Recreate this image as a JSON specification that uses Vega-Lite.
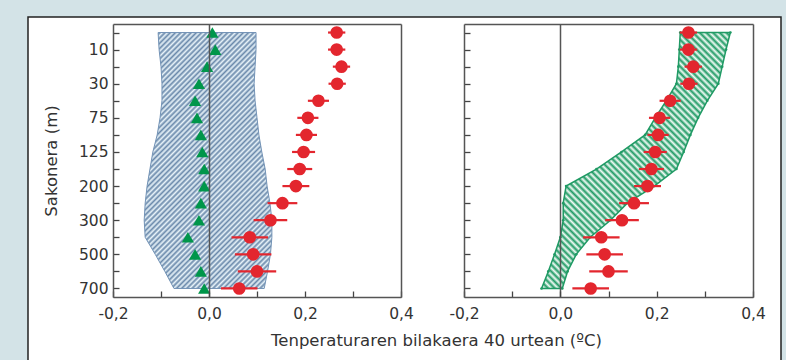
{
"$schema":"https://vega.github.io/schema/vega-lite/v6.json",
"width":753,"height":346,
"autosize":{"type":"none"},
"padding":{"left":28,"top":17,"right":5,"bottom":-3},
"background":"#d3e3e7",
"config":{"view":{"fill":"white","stroke":"#222","strokeWidth":1.5},"font":"DejaVu Sans","axis":{"labelFont":"DejaVu Sans","labelFontSize":15.5,"labelColor":"#333","titleFont":"DejaVu Sans","titleFontSize":16.5,"titleFontWeight":"normal","titleColor":"#333","domainColor":"#555","domainWidth":1.5,"tickColor":"#444","tickWidth":1.3,"grid":false}},
"data":{"values":[
{"depth":0,"dT":0.266,"lo":0.248,"hi":0.284,"tri":0.007,"bL":-0.106,"bR":0.098,"gL":0.249,"gR":0.353},
{"depth":10,"dT":0.266,"lo":0.248,"hi":0.284,"tri":0.013,"bL":-0.104,"bR":0.098,"gL":0.247,"gR":0.344},
{"depth":20,"dT":0.276,"lo":0.258,"hi":0.294,"tri":-0.004,"bL":-0.1,"bR":0.096,"gL":0.245,"gR":0.336},
{"depth":30,"dT":0.267,"lo":0.249,"hi":0.285,"tri":-0.021,"bL":-0.098,"bR":0.094,"gL":0.241,"gR":0.328},
{"depth":50,"dT":0.228,"lo":0.206,"hi":0.25,"tri":-0.029,"bL":-0.098,"bR":0.096,"gL":0.22,"gR":0.305},
{"depth":75,"dT":0.206,"lo":0.184,"hi":0.228,"tri":-0.025,"bL":-0.102,"bR":0.1,"gL":0.197,"gR":0.286},
{"depth":100,"dT":0.203,"lo":0.181,"hi":0.225,"tri":-0.017,"bL":-0.108,"bR":0.104,"gL":0.176,"gR":0.27},
{"depth":125,"dT":0.197,"lo":0.173,"hi":0.221,"tri":-0.014,"bL":-0.117,"bR":0.11,"gL":0.127,"gR":0.256},
{"depth":150,"dT":0.189,"lo":0.163,"hi":0.215,"tri":-0.01,"bL":-0.123,"bR":0.117,"gL":0.075,"gR":0.241},
{"depth":200,"dT":0.181,"lo":0.153,"hi":0.209,"tri":-0.01,"bL":-0.129,"bR":0.121,"gL":0.012,"gR":0.195},
{"depth":250,"dT":0.153,"lo":0.122,"hi":0.184,"tri":-0.017,"bL":-0.133,"bR":0.127,"gL":0.006,"gR":0.139},
{"depth":300,"dT":0.128,"lo":0.093,"hi":0.163,"tri":-0.021,"bL":-0.135,"bR":0.131,"gL":0.006,"gR":0.104},
{"depth":400,"dT":0.085,"lo":0.047,"hi":0.123,"tri":-0.044,"bL":-0.133,"bR":0.131,"gL":0.0,"gR":0.062},
{"depth":500,"dT":0.092,"lo":0.054,"hi":0.13,"tri":-0.029,"bL":-0.112,"bR":0.128,"gL":-0.012,"gR":0.033},
{"depth":600,"dT":0.1,"lo":0.06,"hi":0.14,"tri":-0.017,"bL":-0.092,"bR":0.122,"gL":-0.025,"gR":0.015},
{"depth":700,"dT":0.063,"lo":0.025,"hi":0.101,"tri":-0.01,"bL":-0.073,"bR":0.115,"gL":-0.039,"gR":0.004}
]},
"layer":[
{"layer":[
  {"mark":{"type":"area","stroke":"#7393b6","strokeWidth":1,"fill":{"gradient":"linear","x1":0,"y1":0,"x2":0.656,"y2":1.31,"stops":[
{"offset":0,"color":"#6a89ab"},{"offset":0.00625,"color":"#e8f3f9"},{"offset":0.0125,"color":"#6a89ab"},{"offset":0.01875,"color":"#e8f3f9"},{"offset":0.025,"color":"#6a89ab"},{"offset":0.03125,"color":"#e8f3f9"},{"offset":0.0375,"color":"#6a89ab"},{"offset":0.04375,"color":"#e8f3f9"},{"offset":0.05,"color":"#6a89ab"},{"offset":0.05625,"color":"#e8f3f9"},{"offset":0.0625,"color":"#6a89ab"},{"offset":0.06875,"color":"#e8f3f9"},{"offset":0.075,"color":"#6a89ab"},{"offset":0.08125,"color":"#e8f3f9"},{"offset":0.0875,"color":"#6a89ab"},{"offset":0.09375,"color":"#e8f3f9"},
{"offset":0.1,"color":"#6a89ab"},{"offset":0.10625,"color":"#e8f3f9"},{"offset":0.1125,"color":"#6a89ab"},{"offset":0.11875,"color":"#e8f3f9"},{"offset":0.125,"color":"#6a89ab"},{"offset":0.13125,"color":"#e8f3f9"},{"offset":0.1375,"color":"#6a89ab"},{"offset":0.14375,"color":"#e8f3f9"},{"offset":0.15,"color":"#6a89ab"},{"offset":0.15625,"color":"#e8f3f9"},{"offset":0.1625,"color":"#6a89ab"},{"offset":0.16875,"color":"#e8f3f9"},{"offset":0.175,"color":"#6a89ab"},{"offset":0.18125,"color":"#e8f3f9"},{"offset":0.1875,"color":"#6a89ab"},{"offset":0.19375,"color":"#e8f3f9"},
{"offset":0.2,"color":"#6a89ab"},{"offset":0.20625,"color":"#e8f3f9"},{"offset":0.2125,"color":"#6a89ab"},{"offset":0.21875,"color":"#e8f3f9"},{"offset":0.225,"color":"#6a89ab"},{"offset":0.23125,"color":"#e8f3f9"},{"offset":0.2375,"color":"#6a89ab"},{"offset":0.24375,"color":"#e8f3f9"},{"offset":0.25,"color":"#6a89ab"},{"offset":0.25625,"color":"#e8f3f9"},{"offset":0.2625,"color":"#6a89ab"},{"offset":0.26875,"color":"#e8f3f9"},{"offset":0.275,"color":"#6a89ab"},{"offset":0.28125,"color":"#e8f3f9"},{"offset":0.2875,"color":"#6a89ab"},{"offset":0.29375,"color":"#e8f3f9"},
{"offset":0.3,"color":"#6a89ab"},{"offset":0.30625,"color":"#e8f3f9"},{"offset":0.3125,"color":"#6a89ab"},{"offset":0.31875,"color":"#e8f3f9"},{"offset":0.325,"color":"#6a89ab"},{"offset":0.33125,"color":"#e8f3f9"},{"offset":0.3375,"color":"#6a89ab"},{"offset":0.34375,"color":"#e8f3f9"},{"offset":0.35,"color":"#6a89ab"},{"offset":0.35625,"color":"#e8f3f9"},{"offset":0.3625,"color":"#6a89ab"},{"offset":0.36875,"color":"#e8f3f9"},{"offset":0.375,"color":"#6a89ab"},{"offset":0.38125,"color":"#e8f3f9"},{"offset":0.3875,"color":"#6a89ab"},{"offset":0.39375,"color":"#e8f3f9"},
{"offset":0.4,"color":"#6a89ab"},{"offset":0.40625,"color":"#e8f3f9"},{"offset":0.4125,"color":"#6a89ab"},{"offset":0.41875,"color":"#e8f3f9"},{"offset":0.425,"color":"#6a89ab"},{"offset":0.43125,"color":"#e8f3f9"},{"offset":0.4375,"color":"#6a89ab"},{"offset":0.44375,"color":"#e8f3f9"},{"offset":0.45,"color":"#6a89ab"},{"offset":0.45625,"color":"#e8f3f9"},{"offset":0.4625,"color":"#6a89ab"},{"offset":0.46875,"color":"#e8f3f9"},{"offset":0.475,"color":"#6a89ab"},{"offset":0.48125,"color":"#e8f3f9"},{"offset":0.4875,"color":"#6a89ab"},{"offset":0.49375,"color":"#e8f3f9"},
{"offset":0.5,"color":"#6a89ab"},{"offset":0.50625,"color":"#e8f3f9"},{"offset":0.5125,"color":"#6a89ab"},{"offset":0.51875,"color":"#e8f3f9"},{"offset":0.525,"color":"#6a89ab"},{"offset":0.53125,"color":"#e8f3f9"},{"offset":0.5375,"color":"#6a89ab"},{"offset":0.54375,"color":"#e8f3f9"},{"offset":0.55,"color":"#6a89ab"},{"offset":0.55625,"color":"#e8f3f9"},{"offset":0.5625,"color":"#6a89ab"},{"offset":0.56875,"color":"#e8f3f9"},{"offset":0.575,"color":"#6a89ab"},{"offset":0.58125,"color":"#e8f3f9"},{"offset":0.5875,"color":"#6a89ab"},{"offset":0.59375,"color":"#e8f3f9"},
{"offset":0.6,"color":"#6a89ab"},{"offset":0.60625,"color":"#e8f3f9"},{"offset":0.6125,"color":"#6a89ab"},{"offset":0.61875,"color":"#e8f3f9"},{"offset":0.625,"color":"#6a89ab"},{"offset":0.63125,"color":"#e8f3f9"},{"offset":0.6375,"color":"#6a89ab"},{"offset":0.64375,"color":"#e8f3f9"},{"offset":0.65,"color":"#6a89ab"},{"offset":0.65625,"color":"#e8f3f9"},{"offset":0.6625,"color":"#6a89ab"},{"offset":0.66875,"color":"#e8f3f9"},{"offset":0.675,"color":"#6a89ab"},{"offset":0.68125,"color":"#e8f3f9"},{"offset":0.6875,"color":"#6a89ab"},{"offset":0.69375,"color":"#e8f3f9"},
{"offset":0.7,"color":"#6a89ab"},{"offset":0.70625,"color":"#e8f3f9"},{"offset":0.7125,"color":"#6a89ab"},{"offset":0.71875,"color":"#e8f3f9"},{"offset":0.725,"color":"#6a89ab"},{"offset":0.73125,"color":"#e8f3f9"},{"offset":0.7375,"color":"#6a89ab"},{"offset":0.74375,"color":"#e8f3f9"},{"offset":0.75,"color":"#6a89ab"},{"offset":0.75625,"color":"#e8f3f9"},{"offset":0.7625,"color":"#6a89ab"},{"offset":0.76875,"color":"#e8f3f9"},{"offset":0.775,"color":"#6a89ab"},{"offset":0.78125,"color":"#e8f3f9"},{"offset":0.7875,"color":"#6a89ab"},{"offset":0.79375,"color":"#e8f3f9"},
{"offset":0.8,"color":"#6a89ab"},{"offset":0.80625,"color":"#e8f3f9"},{"offset":0.8125,"color":"#6a89ab"},{"offset":0.81875,"color":"#e8f3f9"},{"offset":0.825,"color":"#6a89ab"},{"offset":0.83125,"color":"#e8f3f9"},{"offset":0.8375,"color":"#6a89ab"},{"offset":0.84375,"color":"#e8f3f9"},{"offset":0.85,"color":"#6a89ab"},{"offset":0.85625,"color":"#e8f3f9"},{"offset":0.8625,"color":"#6a89ab"},{"offset":0.86875,"color":"#e8f3f9"},{"offset":0.875,"color":"#6a89ab"},{"offset":0.88125,"color":"#e8f3f9"},{"offset":0.8875,"color":"#6a89ab"},{"offset":0.89375,"color":"#e8f3f9"},
{"offset":0.9,"color":"#6a89ab"},{"offset":0.90625,"color":"#e8f3f9"},{"offset":0.9125,"color":"#6a89ab"},{"offset":0.91875,"color":"#e8f3f9"},{"offset":0.925,"color":"#6a89ab"},{"offset":0.93125,"color":"#e8f3f9"},{"offset":0.9375,"color":"#6a89ab"},{"offset":0.94375,"color":"#e8f3f9"},{"offset":0.95,"color":"#6a89ab"},{"offset":0.95625,"color":"#e8f3f9"},{"offset":0.9625,"color":"#6a89ab"},{"offset":0.96875,"color":"#e8f3f9"},{"offset":0.975,"color":"#6a89ab"},{"offset":0.98125,"color":"#e8f3f9"},{"offset":0.9875,"color":"#6a89ab"},{"offset":0.99375,"color":"#e8f3f9"},{"offset":1,"color":"#6a89ab"}
]}},
   "encoding":{
    "y":{"field":"depth","type":"ordinal","scale":{"type":"point","range":[7,280],"padding":0.5},
     "axis":{"orient":"left","offset":-85,"title":"Sakonera (m)","titlePadding":19,"tickSize":-6,"labelPadding":11,"labelAngle":0,"zindex":1,
      "labelExpr":"indexof([10,30,75,125,200,300,500,700], datum.value) >= 0 ? datum.label : ''"}},
    "x":{"field":"bL","type":"quantitative","scale":{"domain":[-0.2,0.4],"range":[85,373],"nice":false,"zero":false},
     "axis":{"orient":"bottom","offset":-66,"values":[-0.2,-0.1,0,0.1,0.2,0.3,0.4],"tickSize":-6,"labelPadding":15,"labelFlush":false,"labelOverlap":false,"zindex":1,
      "labelExpr":"round(datum.value*10) % 2 == 0 ? replace(replace(format(datum.value, '.1f'), '.', ','), '\u2212', '-') : ''",
      "title":"Tenperaturaren bilakaera 40 urtean (ºC)","titleX":408,"titleY":43,"titleBaseline":"middle"}},
    "x2":{"field":"bR"}}},
  {"mark":{"type":"point","shape":"triangle-up","filled":true,"color":"#00964a","size":150,"opacity":1},
   "encoding":{"y":{"field":"depth","type":"ordinal","scale":{"type":"point","range":[7,280],"padding":0.5},"axis":null},
    "x":{"field":"tri","type":"quantitative","scale":{"domain":[-0.2,0.4],"range":[85,373],"nice":false,"zero":false},"axis":null}}},
  {"mark":{"type":"rule","color":"#e3262e","strokeWidth":2.2},
   "encoding":{"y":{"field":"depth","type":"ordinal","scale":{"type":"point","range":[7,280],"padding":0.5},"axis":null},
    "x":{"field":"lo","type":"quantitative","scale":{"domain":[-0.2,0.4],"range":[85,373],"nice":false,"zero":false},"axis":null},"x2":{"field":"hi"}}},
  {"mark":{"type":"circle","color":"#e3262e","size":160,"opacity":1},
   "encoding":{"y":{"field":"depth","type":"ordinal","scale":{"type":"point","range":[7,280],"padding":0.5},"axis":null},
    "x":{"field":"dT","type":"quantitative","scale":{"domain":[-0.2,0.4],"range":[85,373],"nice":false,"zero":false},"axis":null}}},
 {"mark":{"type":"point","opacity":0},
  "encoding":{"y":{"field":"depth","type":"ordinal","scale":{"type":"point","range":[7,280],"padding":0.5},
    "axis":{"orient":"right","offset":-380,"ticks":false,"labels":false,"domain":true,"title":null,"zindex":1}},
   "x":{"field":"dT","type":"quantitative","scale":{"domain":[-0.2,0.4],"range":[85,373],"nice":false,"zero":false},
    "axis":{"orient":"top","offset":-7,"values":[0],"grid":true,"gridColor":"#555","gridWidth":1.5,"ticks":false,"labels":false,"domain":true,"title":null,"zindex":1}}}}
],
"resolve":{"axis":{"x":"independent","y":"independent"}}},
{"layer":[
  {"mark":{"type":"area","stroke":"#1f9a64","strokeWidth":1.5,"fill":{"gradient":"linear","x1":0,"y1":1,"x2":1,"y2":-0.35,"stops":[
{"offset":0,"color":"#1f9a64"},{"offset":0.00625,"color":"#f2fbf6"},{"offset":0.0125,"color":"#1f9a64"},{"offset":0.01875,"color":"#f2fbf6"},{"offset":0.025,"color":"#1f9a64"},{"offset":0.03125,"color":"#f2fbf6"},{"offset":0.0375,"color":"#1f9a64"},{"offset":0.04375,"color":"#f2fbf6"},{"offset":0.05,"color":"#1f9a64"},{"offset":0.05625,"color":"#f2fbf6"},{"offset":0.0625,"color":"#1f9a64"},{"offset":0.06875,"color":"#f2fbf6"},{"offset":0.075,"color":"#1f9a64"},{"offset":0.08125,"color":"#f2fbf6"},{"offset":0.0875,"color":"#1f9a64"},{"offset":0.09375,"color":"#f2fbf6"},
{"offset":0.1,"color":"#1f9a64"},{"offset":0.10625,"color":"#f2fbf6"},{"offset":0.1125,"color":"#1f9a64"},{"offset":0.11875,"color":"#f2fbf6"},{"offset":0.125,"color":"#1f9a64"},{"offset":0.13125,"color":"#f2fbf6"},{"offset":0.1375,"color":"#1f9a64"},{"offset":0.14375,"color":"#f2fbf6"},{"offset":0.15,"color":"#1f9a64"},{"offset":0.15625,"color":"#f2fbf6"},{"offset":0.1625,"color":"#1f9a64"},{"offset":0.16875,"color":"#f2fbf6"},{"offset":0.175,"color":"#1f9a64"},{"offset":0.18125,"color":"#f2fbf6"},{"offset":0.1875,"color":"#1f9a64"},{"offset":0.19375,"color":"#f2fbf6"},
{"offset":0.2,"color":"#1f9a64"},{"offset":0.20625,"color":"#f2fbf6"},{"offset":0.2125,"color":"#1f9a64"},{"offset":0.21875,"color":"#f2fbf6"},{"offset":0.225,"color":"#1f9a64"},{"offset":0.23125,"color":"#f2fbf6"},{"offset":0.2375,"color":"#1f9a64"},{"offset":0.24375,"color":"#f2fbf6"},{"offset":0.25,"color":"#1f9a64"},{"offset":0.25625,"color":"#f2fbf6"},{"offset":0.2625,"color":"#1f9a64"},{"offset":0.26875,"color":"#f2fbf6"},{"offset":0.275,"color":"#1f9a64"},{"offset":0.28125,"color":"#f2fbf6"},{"offset":0.2875,"color":"#1f9a64"},{"offset":0.29375,"color":"#f2fbf6"},
{"offset":0.3,"color":"#1f9a64"},{"offset":0.30625,"color":"#f2fbf6"},{"offset":0.3125,"color":"#1f9a64"},{"offset":0.31875,"color":"#f2fbf6"},{"offset":0.325,"color":"#1f9a64"},{"offset":0.33125,"color":"#f2fbf6"},{"offset":0.3375,"color":"#1f9a64"},{"offset":0.34375,"color":"#f2fbf6"},{"offset":0.35,"color":"#1f9a64"},{"offset":0.35625,"color":"#f2fbf6"},{"offset":0.3625,"color":"#1f9a64"},{"offset":0.36875,"color":"#f2fbf6"},{"offset":0.375,"color":"#1f9a64"},{"offset":0.38125,"color":"#f2fbf6"},{"offset":0.3875,"color":"#1f9a64"},{"offset":0.39375,"color":"#f2fbf6"},
{"offset":0.4,"color":"#1f9a64"},{"offset":0.40625,"color":"#f2fbf6"},{"offset":0.4125,"color":"#1f9a64"},{"offset":0.41875,"color":"#f2fbf6"},{"offset":0.425,"color":"#1f9a64"},{"offset":0.43125,"color":"#f2fbf6"},{"offset":0.4375,"color":"#1f9a64"},{"offset":0.44375,"color":"#f2fbf6"},{"offset":0.45,"color":"#1f9a64"},{"offset":0.45625,"color":"#f2fbf6"},{"offset":0.4625,"color":"#1f9a64"},{"offset":0.46875,"color":"#f2fbf6"},{"offset":0.475,"color":"#1f9a64"},{"offset":0.48125,"color":"#f2fbf6"},{"offset":0.4875,"color":"#1f9a64"},{"offset":0.49375,"color":"#f2fbf6"},
{"offset":0.5,"color":"#1f9a64"},{"offset":0.50625,"color":"#f2fbf6"},{"offset":0.5125,"color":"#1f9a64"},{"offset":0.51875,"color":"#f2fbf6"},{"offset":0.525,"color":"#1f9a64"},{"offset":0.53125,"color":"#f2fbf6"},{"offset":0.5375,"color":"#1f9a64"},{"offset":0.54375,"color":"#f2fbf6"},{"offset":0.55,"color":"#1f9a64"},{"offset":0.55625,"color":"#f2fbf6"},{"offset":0.5625,"color":"#1f9a64"},{"offset":0.56875,"color":"#f2fbf6"},{"offset":0.575,"color":"#1f9a64"},{"offset":0.58125,"color":"#f2fbf6"},{"offset":0.5875,"color":"#1f9a64"},{"offset":0.59375,"color":"#f2fbf6"},
{"offset":0.6,"color":"#1f9a64"},{"offset":0.60625,"color":"#f2fbf6"},{"offset":0.6125,"color":"#1f9a64"},{"offset":0.61875,"color":"#f2fbf6"},{"offset":0.625,"color":"#1f9a64"},{"offset":0.63125,"color":"#f2fbf6"},{"offset":0.6375,"color":"#1f9a64"},{"offset":0.64375,"color":"#f2fbf6"},{"offset":0.65,"color":"#1f9a64"},{"offset":0.65625,"color":"#f2fbf6"},{"offset":0.6625,"color":"#1f9a64"},{"offset":0.66875,"color":"#f2fbf6"},{"offset":0.675,"color":"#1f9a64"},{"offset":0.68125,"color":"#f2fbf6"},{"offset":0.6875,"color":"#1f9a64"},{"offset":0.69375,"color":"#f2fbf6"},
{"offset":0.7,"color":"#1f9a64"},{"offset":0.70625,"color":"#f2fbf6"},{"offset":0.7125,"color":"#1f9a64"},{"offset":0.71875,"color":"#f2fbf6"},{"offset":0.725,"color":"#1f9a64"},{"offset":0.73125,"color":"#f2fbf6"},{"offset":0.7375,"color":"#1f9a64"},{"offset":0.74375,"color":"#f2fbf6"},{"offset":0.75,"color":"#1f9a64"},{"offset":0.75625,"color":"#f2fbf6"},{"offset":0.7625,"color":"#1f9a64"},{"offset":0.76875,"color":"#f2fbf6"},{"offset":0.775,"color":"#1f9a64"},{"offset":0.78125,"color":"#f2fbf6"},{"offset":0.7875,"color":"#1f9a64"},{"offset":0.79375,"color":"#f2fbf6"},
{"offset":0.8,"color":"#1f9a64"},{"offset":0.80625,"color":"#f2fbf6"},{"offset":0.8125,"color":"#1f9a64"},{"offset":0.81875,"color":"#f2fbf6"},{"offset":0.825,"color":"#1f9a64"},{"offset":0.83125,"color":"#f2fbf6"},{"offset":0.8375,"color":"#1f9a64"},{"offset":0.84375,"color":"#f2fbf6"},{"offset":0.85,"color":"#1f9a64"},{"offset":0.85625,"color":"#f2fbf6"},{"offset":0.8625,"color":"#1f9a64"},{"offset":0.86875,"color":"#f2fbf6"},{"offset":0.875,"color":"#1f9a64"},{"offset":0.88125,"color":"#f2fbf6"},{"offset":0.8875,"color":"#1f9a64"},{"offset":0.89375,"color":"#f2fbf6"},
{"offset":0.9,"color":"#1f9a64"},{"offset":0.90625,"color":"#f2fbf6"},{"offset":0.9125,"color":"#1f9a64"},{"offset":0.91875,"color":"#f2fbf6"},{"offset":0.925,"color":"#1f9a64"},{"offset":0.93125,"color":"#f2fbf6"},{"offset":0.9375,"color":"#1f9a64"},{"offset":0.94375,"color":"#f2fbf6"},{"offset":0.95,"color":"#1f9a64"},{"offset":0.95625,"color":"#f2fbf6"},{"offset":0.9625,"color":"#1f9a64"},{"offset":0.96875,"color":"#f2fbf6"},{"offset":0.975,"color":"#1f9a64"},{"offset":0.98125,"color":"#f2fbf6"},{"offset":0.9875,"color":"#1f9a64"},{"offset":0.99375,"color":"#f2fbf6"},{"offset":1,"color":"#1f9a64"}
]}},
   "encoding":{
    "y":{"field":"depth","type":"ordinal","scale":{"type":"point","range":[7,280],"padding":0.5},
     "axis":{"orient":"left","offset":-436,"title":null,"tickSize":-6,"labels":false,"zindex":1}},
    "x":{"field":"gL","type":"quantitative","scale":{"domain":[-0.2,0.4],"range":[436,725],"nice":false,"zero":false},
     "axis":{"orient":"bottom","offset":-66,"values":[-0.2,-0.1,0,0.1,0.2,0.3,0.4],"tickSize":-6,"labelPadding":15,"labelFlush":false,"labelOverlap":false,"zindex":1,"title":null,
      "labelExpr":"round(datum.value*10) % 2 == 0 ? replace(replace(format(datum.value, '.1f'), '.', ','), '\u2212', '-') : ''"}},
    "x2":{"field":"gR"}}},
  {"mark":{"type":"circle","color":"#1f9a64","size":7,"opacity":1},
   "encoding":{"y":{"field":"depth","type":"ordinal","scale":{"type":"point","range":[7,280],"padding":0.5},"axis":null},
    "x":{"field":"gL","type":"quantitative","scale":{"domain":[-0.2,0.4],"range":[436,725],"nice":false,"zero":false},"axis":null}}},
  {"mark":{"type":"circle","color":"#1f9a64","size":7,"opacity":1},
   "encoding":{"y":{"field":"depth","type":"ordinal","scale":{"type":"point","range":[7,280],"padding":0.5},"axis":null},
    "x":{"field":"gR","type":"quantitative","scale":{"domain":[-0.2,0.4],"range":[436,725],"nice":false,"zero":false},"axis":null}}},
  {"mark":{"type":"rule","color":"#e3262e","strokeWidth":2.2},
   "encoding":{"y":{"field":"depth","type":"ordinal","scale":{"type":"point","range":[7,280],"padding":0.5},"axis":null},
    "x":{"field":"lo","type":"quantitative","scale":{"domain":[-0.2,0.4],"range":[436,725],"nice":false,"zero":false},"axis":null},"x2":{"field":"hi"}}},
  {"mark":{"type":"circle","color":"#e3262e","size":160,"opacity":1},
   "encoding":{"y":{"field":"depth","type":"ordinal","scale":{"type":"point","range":[7,280],"padding":0.5},"axis":null},
    "x":{"field":"dT","type":"quantitative","scale":{"domain":[-0.2,0.4],"range":[436,725],"nice":false,"zero":false},"axis":null}}},
 {"mark":{"type":"point","opacity":0},
  "encoding":{"y":{"field":"depth","type":"ordinal","scale":{"type":"point","range":[7,280],"padding":0.5},
    "axis":{"orient":"right","offset":-28,"ticks":false,"labels":false,"domain":true,"title":null,"zindex":1}},
   "x":{"field":"dT","type":"quantitative","scale":{"domain":[-0.2,0.4],"range":[436,725],"nice":false,"zero":false},
    "axis":{"orient":"top","offset":-7,"values":[0],"grid":true,"gridColor":"#555","gridWidth":1.5,"ticks":false,"labels":false,"domain":true,"title":null,"zindex":1}}}}
],
"resolve":{"axis":{"x":"independent","y":"independent"}}}
],
"resolve":{"scale":{"x":"independent"},"axis":{"x":"independent","y":"independent"}}
}
